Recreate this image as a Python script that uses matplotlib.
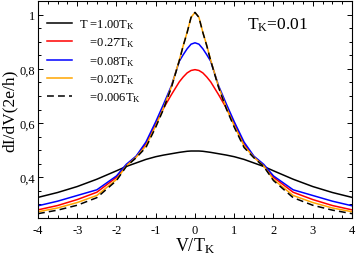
import matplotlib
matplotlib.use("Agg")
import matplotlib.pyplot as plt
from matplotlib.ticker import MultipleLocator, FuncFormatter

# ─────────────────────────────────────────────
#  DATOS
# ─────────────────────────────────────────────
V = [-4, -3.5, -3, -2.5, -2, -1.75, -1.5, -1.25, -1, -0.8, -0.6, -0.4, -0.3, -0.2, -0.1, 0,
     0.1, 0.2, 0.3, 0.4, 0.6, 0.8, 1, 1.25, 1.5, 1.75, 2, 2.5, 3, 3.5, 4]

g_100 = [0.326, 0.344, 0.366, 0.393, 0.424, 0.440, 0.453, 0.466, 0.476, 0.482, 0.487, 0.492, 0.494, 0.496, 0.497, 0.497,
         0.497, 0.496, 0.494, 0.492, 0.487, 0.482, 0.476, 0.466, 0.453, 0.440, 0.424, 0.393, 0.366, 0.344, 0.326]
g_027 = [0.280, 0.296, 0.318, 0.345, 0.400, 0.444, 0.476, 0.523, 0.598, 0.655, 0.705, 0.752, 0.770, 0.785, 0.794, 0.797,
         0.794, 0.785, 0.770, 0.752, 0.705, 0.655, 0.598, 0.523, 0.476, 0.444, 0.400, 0.345, 0.318, 0.296, 0.280]
g_008 = [0.295, 0.312, 0.333, 0.354, 0.405, 0.448, 0.478, 0.530, 0.605, 0.670, 0.738, 0.828, 0.852, 0.874, 0.891, 0.896,
         0.891, 0.874, 0.852, 0.828, 0.738, 0.670, 0.605, 0.530, 0.478, 0.448, 0.405, 0.354, 0.333, 0.312, 0.295]
g_002 = [0.273, 0.287, 0.307, 0.333, 0.392, 0.442, 0.474, 0.516, 0.590, 0.656, 0.734, 0.832, 0.886, 0.935, 0.990, 1.008,
         0.990, 0.935, 0.886, 0.832, 0.734, 0.656, 0.590, 0.516, 0.474, 0.442, 0.392, 0.333, 0.307, 0.287, 0.273]
g_0006 = [0.266, 0.279, 0.297, 0.325, 0.388, 0.440, 0.472, 0.510, 0.585, 0.652, 0.732, 0.830, 0.885, 0.934, 0.990, 1.008,
          0.990, 0.934, 0.885, 0.830, 0.732, 0.652, 0.585, 0.510, 0.472, 0.440, 0.388, 0.325, 0.297, 0.279, 0.266]

etiquetas = ["T =1.00T$_\\mathrm{K}$",
             "   $\\,$=0.27T$_\\mathrm{K}$",
             "   $\\,$=0.08T$_\\mathrm{K}$",
             "   $\\,$=0.02T$_\\mathrm{K}$",
             "   $\\,$=0.006T$_\\mathrm{K}$"]

# ─────────────────────────────────────────────
#  ESTILO
# ─────────────────────────────────────────────
plt.rcParams["font.family"] = ["Liberation Serif", "DejaVu Serif"]
plt.rcParams["mathtext.fontset"] = "custom"
plt.rcParams["mathtext.rm"] = "Liberation Serif"
plt.rcParams["mathtext.it"] = "Liberation Serif:italic"

fig = plt.figure(figsize=(3.57, 2.55), dpi=100)
ax = fig.add_axes([0.1064, 0.1412, 0.8796, 0.8508])

lw = 1.1
ax.plot(V, g_100, color="black", lw=lw, label=etiquetas[0])
ax.plot(V, g_027, color="#ff0000", lw=lw, label=etiquetas[1])
ax.plot(V, g_008, color="#0000ff", lw=lw, label=etiquetas[2])
ax.plot(V, g_002, color="#ffa500", lw=lw, label=etiquetas[3])
ax.plot(V, g_0006, color="black", lw=lw, ls=(0, (4.5, 2.7)), label=etiquetas[4])

ax.set_xlim(-4, 4)
ax.set_ylim(0.25, 1.05)
ax.xaxis.set_major_locator(MultipleLocator(1))
ax.xaxis.set_minor_locator(MultipleLocator(0.25))
ax.yaxis.set_major_locator(MultipleLocator(0.2))
ax.yaxis.set_minor_locator(MultipleLocator(0.05))
ax.xaxis.set_major_formatter(FuncFormatter(lambda v, p: f"{v:.0f}"))
ax.yaxis.set_major_formatter(
    FuncFormatter(lambda v, p: "1" if abs(v - 1) < 1e-6 else f"{v:.1f}".replace(".", ",")))

ax.tick_params(which="both", direction="in", top=True, right=True, width=0.7, labelsize=9)
ax.tick_params(axis="x", pad=4)
ax.tick_params(axis="y", pad=2)
ax.tick_params(which="major", length=3.5)
ax.tick_params(which="minor", length=2)
for s in ax.spines.values():
    s.set_linewidth(0.8)

ax.set_xlabel("V/T$_\\mathrm{K}$", fontsize=13, labelpad=0)
ax.set_ylabel("dI/dV(2e/h)", fontsize=12.5, labelpad=1)

ax.text(1.32, 0.95, "T$_\\mathrm{K}$=0.01", fontsize=12.5, va="baseline", ha="left")

ax.legend(loc="upper left", frameon=False, fontsize=9, handlelength=2.0,
          handletextpad=0.6, labelspacing=0.36, borderaxespad=0.3,
          bbox_to_anchor=(0.0, 0.965))

fig.savefig("out.png", dpi=100)
